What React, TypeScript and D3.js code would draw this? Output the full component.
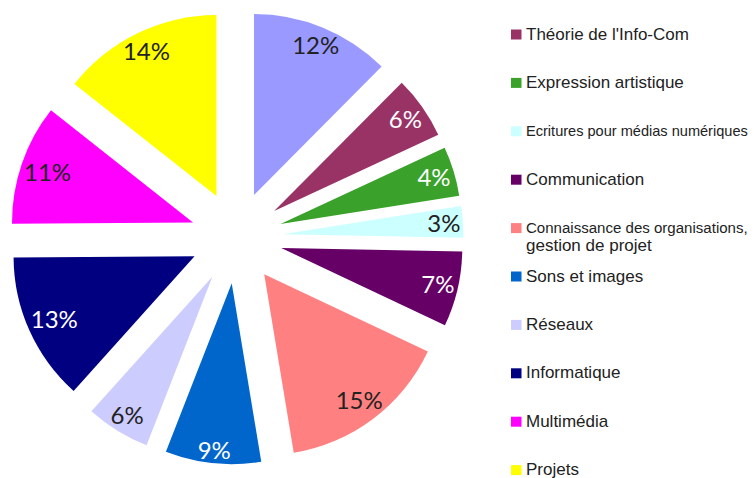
import React from 'react';
import { pie, arc, PieArcDatum } from 'd3';

const width = 754;
const height = 478;

// slice order clockwise from 12 o'clock
const categories = [
  'Autres',
  "Théorie de l'Info-Com",
  'Expression artistique',
  'Ecritures pour médias numériques',
  'Communication',
  'Connaissance des organisations, gestion de projet',
  'Sons et images',
  'Réseaux',
  'Informatique',
  'Multimédia',
  'Projets',
];
const values = [12.4, 5.6, 4.4, 2.8, 6.7, 15.3, 8.5, 5.7, 13.2, 10.7, 14.3];
const colors = [
  '#9999FF',
  '#993366',
  '#3AA22B',
  '#CCFFFF',
  '#660066',
  '#FF8080',
  '#0066CC',
  '#CCCCFF',
  '#000080',
  '#FF00FF',
  '#FFFF00',
];
const darkSlices = ['#993366', '#3AA22B', '#660066', '#0066CC', '#000080'];

// legend shows everything but the first slice
const legendItems = categories.slice(1);
const legendLines: Record<string, string[]> = {
  'Connaissance des organisations, gestion de projet': [
    'Connaissance des organisations,',
    'gestion de projet',
  ],
};

const cx = 236.5;
const cy = 237.5;
const radius = 181;
const explode = 46;
const labelEdge = 179;

let ctx: CanvasRenderingContext2D | null = null;
const measure = (s: string, font: string) => {
  if (!ctx) ctx = document.createElement('canvas').getContext('2d');
  if (!ctx) return 0;
  ctx.font = font;
  return ctx.measureText(s).width;
};

const App = () => {
  const total = values.reduce((a, b) => a + b, 0);
  const data = categories.map((c, i) => ({ name: c, value: values[i], color: colors[i] }));
  const arcs = pie<any>().sort(null).value((d) => d.value)(data);
  const arcGen = arc<PieArcDatum<any>>().innerRadius(0).outerRadius(radius);

  const legendX = 511;
  const textX = 526;
  const firstBaseline = 39.5;
  const rowStep = 48.4;
  const maxTextW = 222;
  const legendFont = '17px "Liberation Sans", Arial, sans-serif';
  const labelFont = '24px Lato';

  return (
    <svg
      width={width}
      height={height}
      style={{ position: 'absolute', left: 0, top: 0, background: '#fff' }}
    >
      <g transform={`translate(${cx},${cy})`}>
        {arcs.map((a) => {
          const mid = (a.startAngle + a.endAngle) / 2;
          const sx = Math.sin(mid);
          const sy = -Math.cos(mid);
          const pct = Math.round((a.data.value / total) * 100);
          const label = `${pct}%`;
          // keep label box inside the outer edge (best fit)
          const w = measure(label, labelFont) || 40;
          const ext = Math.abs(sx) * (w / 2) + Math.abs(sy) * 9;
          const lr = labelEdge - ext;
          return (
            <g key={a.data.name} transform={`translate(${sx * explode},${sy * explode})`}>
              <path d={arcGen(a) || ''} fill={a.data.color} />
              <text
                x={sx * lr}
                y={sy * lr}
                dy="0.36em"
                textAnchor="middle"
                fontFamily="Lato, 'Open Sans', sans-serif"
                fontSize={24}
                fill={darkSlices.includes(a.data.color) ? '#ffffff' : '#222222'}
              >
                {label}
              </text>
            </g>
          );
        })}
      </g>
      <g>
        {legendItems.map((name, i) => {
          const y = firstBaseline + i * rowStep;
          const lines = legendLines[name] || [name];
          return (
            <g key={name}>
              <rect x={legendX} y={y - 10} width={10.5} height={10} fill={colors[i + 1]} />
              {lines.map((line, j) => {
                // long lines are shrunk to fit the space left of the edge
                const lw = measure(line, legendFont);
                const fs = lw > maxTextW ? (17 * maxTextW) / lw : 17;
                return (
                  <text
                    key={j}
                    x={textX}
                    y={y + j * 17.5}
                    fontFamily='"Liberation Sans", Arial, sans-serif'
                    fontSize={fs}
                    fill="#222222"
                  >
                    {line}
                  </text>
                );
              })}
            </g>
          );
        })}
      </g>
    </svg>
  );
};

export default App;
